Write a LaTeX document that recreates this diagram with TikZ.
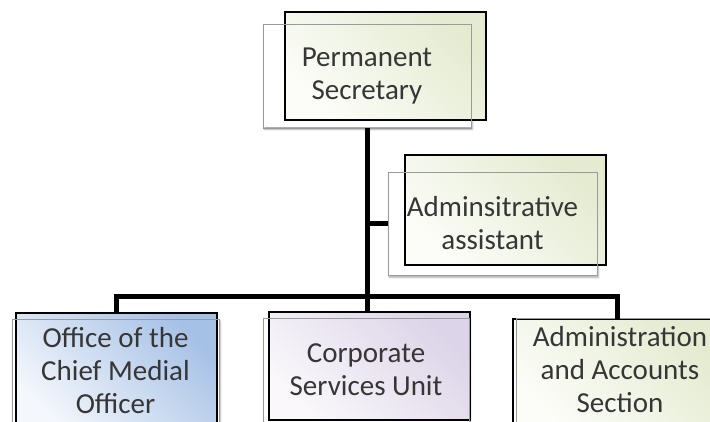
\documentclass[tikz,border=0pt]{standalone}
\usepackage{fontspec}
\setmainfont{Carlito}
\usetikzlibrary{shadows.blur}
\definecolor{txt}{HTML}{363636}
\definecolor{grayline}{HTML}{9A9A9A}
\definecolor{gnDark}{HTML}{E4EBD0}
\definecolor{gnLight}{HTML}{FCFDF9}
\definecolor{blDark}{HTML}{A6C1E6}
\definecolor{blLight}{HTML}{F4F7FC}
\definecolor{lvDark}{HTML}{DCD4E8}
\definecolor{lvLight}{HTML}{FAF8FB}
\begin{document}
\begin{tikzpicture}[x=1pt,y=-1pt,
  base/.style={rectangle, inner sep=0pt, outer sep=0pt, fill=white,
    blur shadow={shadow xshift=1.2pt, shadow yshift=-2.2pt, shadow opacity=35, shadow blur radius=2pt, shadow blur steps=6}},
  frame/.style={rectangle, inner sep=0pt, outer sep=0pt, draw=black, line width=1.6pt},
  greenfill/.style={top color=gnDark, bottom color=gnLight, shading angle=-45},
  bluefill/.style={top color=blDark, bottom color=blLight, shading angle=-45},
  lavfill/.style={top color=lvDark, bottom color=lvLight, shading angle=-45},
  graybox/.style={rectangle, inner sep=0pt, outer sep=0pt, draw=grayline, line width=0.9pt,
    align=center, text=txt, font=\fontsize{29}{33}\selectfont},
  conn/.style={line width=5pt, line join=miter, draw=black}
]
\useasboundingbox (0,0) rectangle (710,422);
\clip (0,0) rectangle (710,422);

% Permanent Secretary
\node[base, minimum width=208pt, minimum height=104pt] (psS) at (367,75) {};
\node[frame, greenfill, minimum width=201pt, minimum height=108pt] (psF) at (385.5,66) {};
\node[graybox, minimum width=208pt, minimum height=104pt] (ps) at (367,76) {Permanent\\Secretary};

% Administrative assistant
\node[base, minimum width=209pt, minimum height=103pt] (aaS) at (492.5,223.5) {};
\node[frame, greenfill, minimum width=201pt, minimum height=110pt] (aaF) at (505.5,210) {};
\node[graybox, minimum width=209pt, minimum height=103pt] (aa) at (492.5,223.5) {Adminsitrative\\assistant};

% Office of the Chief Medial Officer
\node[base, minimum width=207pt, minimum height=104pt] (ocS) at (115.5,371) {};
\node[frame, bluefill, minimum width=201pt, minimum height=117pt] (ocF) at (116.5,371.5) {};
\node[graybox, minimum width=207pt, minimum height=104pt] (oc) at (115.5,371) {Office of the\\Chief Medial\\Officer};

% Corporate Services Unit
\node[base, minimum width=206pt, minimum height=104pt] (csS) at (366,370) {};
\node[frame, lavfill, minimum width=201pt, minimum height=108pt] (csF) at (369.5,366) {};
\node[graybox, minimum width=206pt, minimum height=104pt] (cs) at (366,370) {Corporate\\Services Unit};

% Administration and Accounts Section
\node[base, minimum width=208pt, minimum height=104pt] (asS) at (620,370) {};
\node[frame, greenfill, minimum width=208pt, minimum height=111pt] (asF) at (617,374.5) {};
\node[graybox, minimum width=208pt, minimum height=104pt] (as) at (620,370) {Administration\\and Accounts\\Section};

% connectors
\coordinate (bus) at (367,297);
\draw[conn] (ps.south) -- (ps.south |- csF.north);
\draw[conn] (ps.south |- aa.west) -- (aa.west);
\draw[conn] (ocF.north) |- (bus) -| (asF.north);
\end{tikzpicture}
\end{document}
